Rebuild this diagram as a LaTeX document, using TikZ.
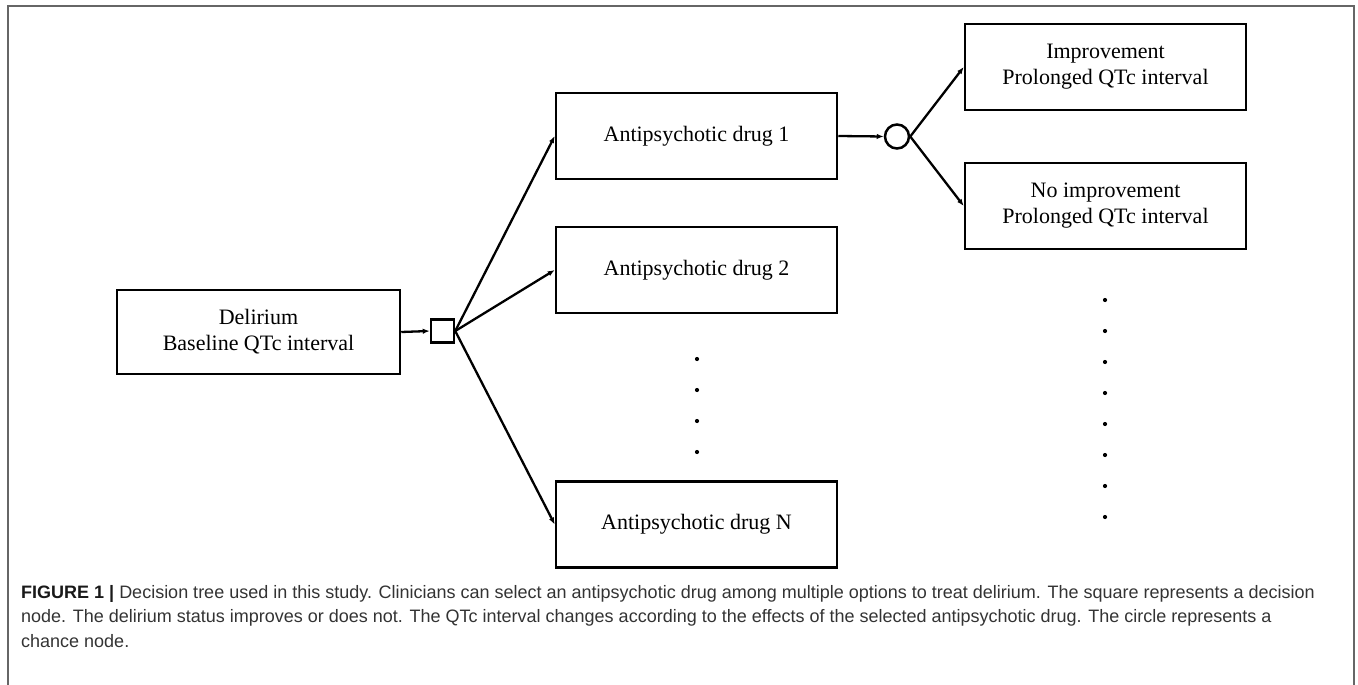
\documentclass[tikz,border=0pt]{standalone}
\usepackage{fontspec}
\setmainfont{Liberation Serif}
\newfontfamily\capfont{Liberation Sans}
\usetikzlibrary{arrows.meta}

\begin{document}
\begin{tikzpicture}[x=1pt, y=-1pt,
    box/.style={draw, rectangle, line width=2.5pt, minimum width=281pt, minimum height=86pt,
      align=center, font=\fontsize{22}{26}\selectfont},
    arr/.style={-{Latex[length=7pt,width=5.5pt]}, line width=2.3pt},
    dot/.style={circle, fill, inner sep=0pt, minimum size=4.2pt}]
    \useasboundingbox (0,0) rectangle (1358,685);

    % 外框
    \draw[line width=2pt, black!60] (8,685) -- (8,6.5) -- (1354,6.5) -- (1354,685);

    % 起点
    \node[box, minimum width=283pt, minimum height=84pt] (delirium) at (258.5,332) {Delirium\\Baseline QTc interval};

    % 决策节点和机会节点
    \node[draw, rectangle, line width=2.5pt, minimum size=23pt, inner sep=0pt] (decision) at (442.5,331) {};
    \node[draw, circle, line width=2.5pt, minimum size=24pt, inner sep=0pt] (chance) at (897,136.5) {};

    % 药物
    \node[box] (drug1) at (696.5,136) {Antipsychotic drug 1};
    \node[box] (drug2) at (696.5,270) {Antipsychotic drug 2};
    \node[box] (drugN) at (696.5,524.5) {Antipsychotic drug N};

    % 结果
    \node[box] (improve) at (1105.5,67) {Improvement\\Prolonged QTc interval};
    \node[box] (noimprove) at (1105.5,206) {No improvement\\Prolonged QTc interval};

    % 省略号
    \node[dot] (ldot1) at (697,359) {};
    \node[dot] (ldot2) at (697,390) {};
    \node[dot] (ldot3) at (697,421) {};
    \node[dot] (ldot4) at (697,452) {};
    \node[dot] (rdot1) at (1105,300) {};
    \node[dot] (rdot2) at (1105,331) {};
    \node[dot] (rdot3) at (1105,362) {};
    \node[dot] (rdot4) at (1105,393) {};
    \node[dot] (rdot5) at (1105,424) {};
    \node[dot] (rdot6) at (1105,455) {};
    \node[dot] (rdot7) at (1105,486) {};
    \node[dot] (rdot8) at (1105,517) {};

    % 连线
    \draw[arr] (delirium.east) -- (decision.west);
    \draw[arr] (decision.east) -- (drug1.west);
    \draw[arr] (decision.east) -- (drug2.west);
    \draw[arr] (decision.east) -- (drugN.west);
    \draw[arr] (drug1.east) -- (chance.west);
    \draw[arr] (chance.east) -- (improve.west);
    \draw[arr] (chance.east) -- (noimprove.west);

    % 图注
    \node[anchor=north west, align=left, inner sep=0pt, text=black!80,
      font=\capfont\fontsize{18}{24.5}\selectfont] (caption) at (21,585)
      {{\color{black!90}\textbf{FIGURE 1 |}} Decision tree used in this study. Clinicians can select an antipsychotic drug among multiple options to treat delirium. The square represents a decision\\
       node. The delirium status improves or does not. The QTc interval changes according to the effects of the selected antipsychotic drug. The circle represents a\\
       chance node.};
  \end{tikzpicture}
\end{document}
